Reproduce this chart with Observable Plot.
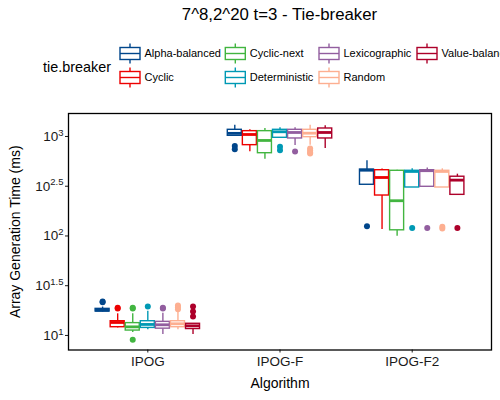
<!DOCTYPE html>
<html><head><meta charset="utf-8">
<script src="https://cdn.jsdelivr.net/npm/d3@7"></script>
<script src="https://cdn.jsdelivr.net/npm/@observablehq/plot@0.6"></script>
<style>
body{margin:0;background:#fff;font-family:"Liberation Sans",Arial,sans-serif;}
#wrap{width:500px;overflow:hidden;}
#head{position:relative;width:500px;height:100px;overflow:hidden;}
#title{position:absolute;left:68px;width:423px;top:5px;text-align:center;font-size:16.8px;color:#000;}
#chart svg g[aria-label="x-axis label"] text, #chart svg g[aria-label="y-axis label"] text{font-size:14px;fill:#000;}
#chart svg g[aria-label="x-axis tick label"] text, #chart svg g[aria-label="y-axis tick label"] text{font-size:13.5px;fill:#1a1a1a;}
</style></head>
<body><div id="wrap"><div id="head"><div id="title">7^8,2^20 t=3 - Tie-breaker</div></div><div id="chart"></div></div>
<script>
const algorithms = ["IPOG", "IPOG-F", "IPOG-F2"];
const tieBreakers = ["Alpha-balanced", "Cyclic", "Cyclic-next", "Deterministic", "Lexicographic", "Random", "Value-balanced"];
const colors = ["#00468B", "#ED0000", "#42B540", "#0099B4", "#925E9F", "#FDAF91", "#AD002A"];
const yTicks = [10, 31.6228, 100, 316.228, 1000];

// rows: algorithms; columns: tie-breakers (ms)
const whiskerLow = [
  [17.2, 11.9, 10.7, 11.4, 10.2, 11.4, 10.2],
  [1005, 701, 591, 970, 812, 818, 757],
  [327, 116, 99.5, 307, 312, 307, 259]
];
const q1 = [
  [17.4, 12.1, 11.2, 11.9, 11.7, 12.1, 11.6],
  [1016, 818, 679, 970, 955, 984, 955],
  [327, 255, 114, 307, 312, 307, 259]
];
const median = [
  [17.9, 13.5, 12.2, 12.9, 12.8, 13.1, 12.5],
  [1075, 1047, 912, 1115, 1097, 1079, 1097],
  [458, 387, 226, 445, 453, 445, 364]
];
const q3 = [
  [18.5, 13.9, 13.3, 13.9, 13.7, 13.9, 13.1],
  [1167, 1131, 1131, 1167, 1167, 1167, 1203],
  [465, 458, 452, 452, 458, 452, 394]
];
const whiskerHigh = [
  [19.3, 16.5, 16.5, 17.5, 16.7, 17.0, 13.1],
  [1299, 1167, 1203, 1223, 1223, 1299, 1281],
  [570, 471, 458, 473, 481, 473, 418]
];
const outliers = [
  [[22.0, 21.5], [19.0, 18.7], [19.0, 18.7, 9.05], [19.5], [19.0, 18.7], [20.0, 19.2, 18.3], [19.5, 17.4, 15.5]],
  [[800, 745], [], [], [790, 725], [707], [757, 723, 690, 674], []],
  [[125], [], [], [120], [120], [124, 119], [120]]
];

const dodge = 0.114, half = 0.053;
const boxes = [], points = [];
algorithms.forEach((a, i) => tieBreakers.forEach((t, j) => {
  const pos = i + (j - 3) * dodge;
  boxes.push({algorithm: a, tie: t, pos, lo: whiskerLow[i][j], q1: q1[i][j], med: median[i][j], q3: q3[i][j], hi: whiskerHigh[i][j]});
  outliers[i][j].forEach(v => points.push({tie: t, pos, value: v}));
}));

const fmtExp = d => { const e = Math.round(Math.log10(d) * 10) / 10; return "10^" + e; };

const chart = Plot.plot({
  width: 500, height: 300,
  marginTop: 13, marginBottom: 50.5, marginLeft: 68, marginRight: 9,
  style: {fontFamily: '"Liberation Sans", Arial, sans-serif', fontSize: "13.5px", color: "#1a1a1a", background: "white"},
  x: {type: "linear", domain: [-0.6, 2.6]},
  y: {type: "log", domain: [7.14, 1702]},
  color: {domain: tieBreakers, range: colors},
  marks: [
    Plot.axisX({ticks: [0, 1, 2], tickFormat: i => algorithms[i], tickSize: 3, tickPadding: 3, fontSize: 13.5, label: "Algorithm", labelAnchor: "center", labelArrow: "none", labelOffset: 38}),
    Plot.axisY({ticks: yTicks, tickFormat: fmtExp, tickSize: 3, tickPadding: 2, fontSize: 13.5, label: "Array Generation Time (ms)", labelAnchor: "center", labelArrow: "none", labelOffset: 58}),
    Plot.dot(points, {x: "pos", y: "value", fill: "tie", r: 3}),
    Plot.ruleX(boxes, {x: "pos", y1: "lo", y2: "q1", stroke: "tie", strokeWidth: 1.4}),
    Plot.ruleX(boxes, {x: "pos", y1: "q3", y2: "hi", stroke: "tie", strokeWidth: 1.4}),
    Plot.rect(boxes, {x1: d => d.pos - half, x2: d => d.pos + half, y1: "q1", y2: "q3", fill: "white", stroke: "tie", strokeWidth: 1.4}),
    Plot.ruleY(boxes, {x1: d => d.pos - half, x2: d => d.pos + half, y: "med", stroke: "tie", strokeWidth: 2.8}),
    Plot.frame({stroke: "#000", strokeWidth: 1.3})
  ]
});
document.getElementById("chart").append(chart);

// superscript exponents on y tick labels
d3.select(chart).selectAll('g[aria-label="y-axis tick label"] text').each(function () {
  const [b, e] = this.textContent.split("^");
  const t = d3.select(this);
  t.text(b);
  t.append("tspan").attr("dy", "-0.55em").attr("font-size", "9.5px").text(e);
});

// legend
const head = d3.select("#head");
const legendCols = [120, 225.3, 319, 417];
const legendRows = [53.5, 77.5];
const lsvg = head.append("svg").attr("width", 500).attr("height", 100)
  .style("position", "absolute").style("left", 0).style("top", 0)
  .style("font-family", '"Liberation Sans", Arial, sans-serif');
lsvg.append("text").attr("x", 43).attr("y", 67).attr("dy", "0.35em").attr("font-size", 14.4).attr("fill", "#000").text("tie.breaker");
tieBreakers.forEach((t, k) => {
  const x = legendCols[Math.floor(k / 2)], y = legendRows[k % 2], c = colors[k];
  const g = lsvg.append("g");
  g.append("line").attr("x1", x + 10).attr("x2", x + 10).attr("y1", y - 10).attr("y2", y + 10).attr("stroke", c).attr("stroke-width", 1.4);
  g.append("rect").attr("x", x).attr("y", y - 6).attr("width", 20).attr("height", 12).attr("fill", "white").attr("stroke", c).attr("stroke-width", 1.4);
  g.append("line").attr("x1", x).attr("x2", x + 20).attr("y1", y).attr("y2", y).attr("stroke", c).attr("stroke-width", 1.4);
  g.append("text").attr("x", x + 24.5).attr("y", y).attr("dy", "0.35em").attr("font-size", 11).attr("fill", "#000").text(t);
});
</script>
</body></html>
